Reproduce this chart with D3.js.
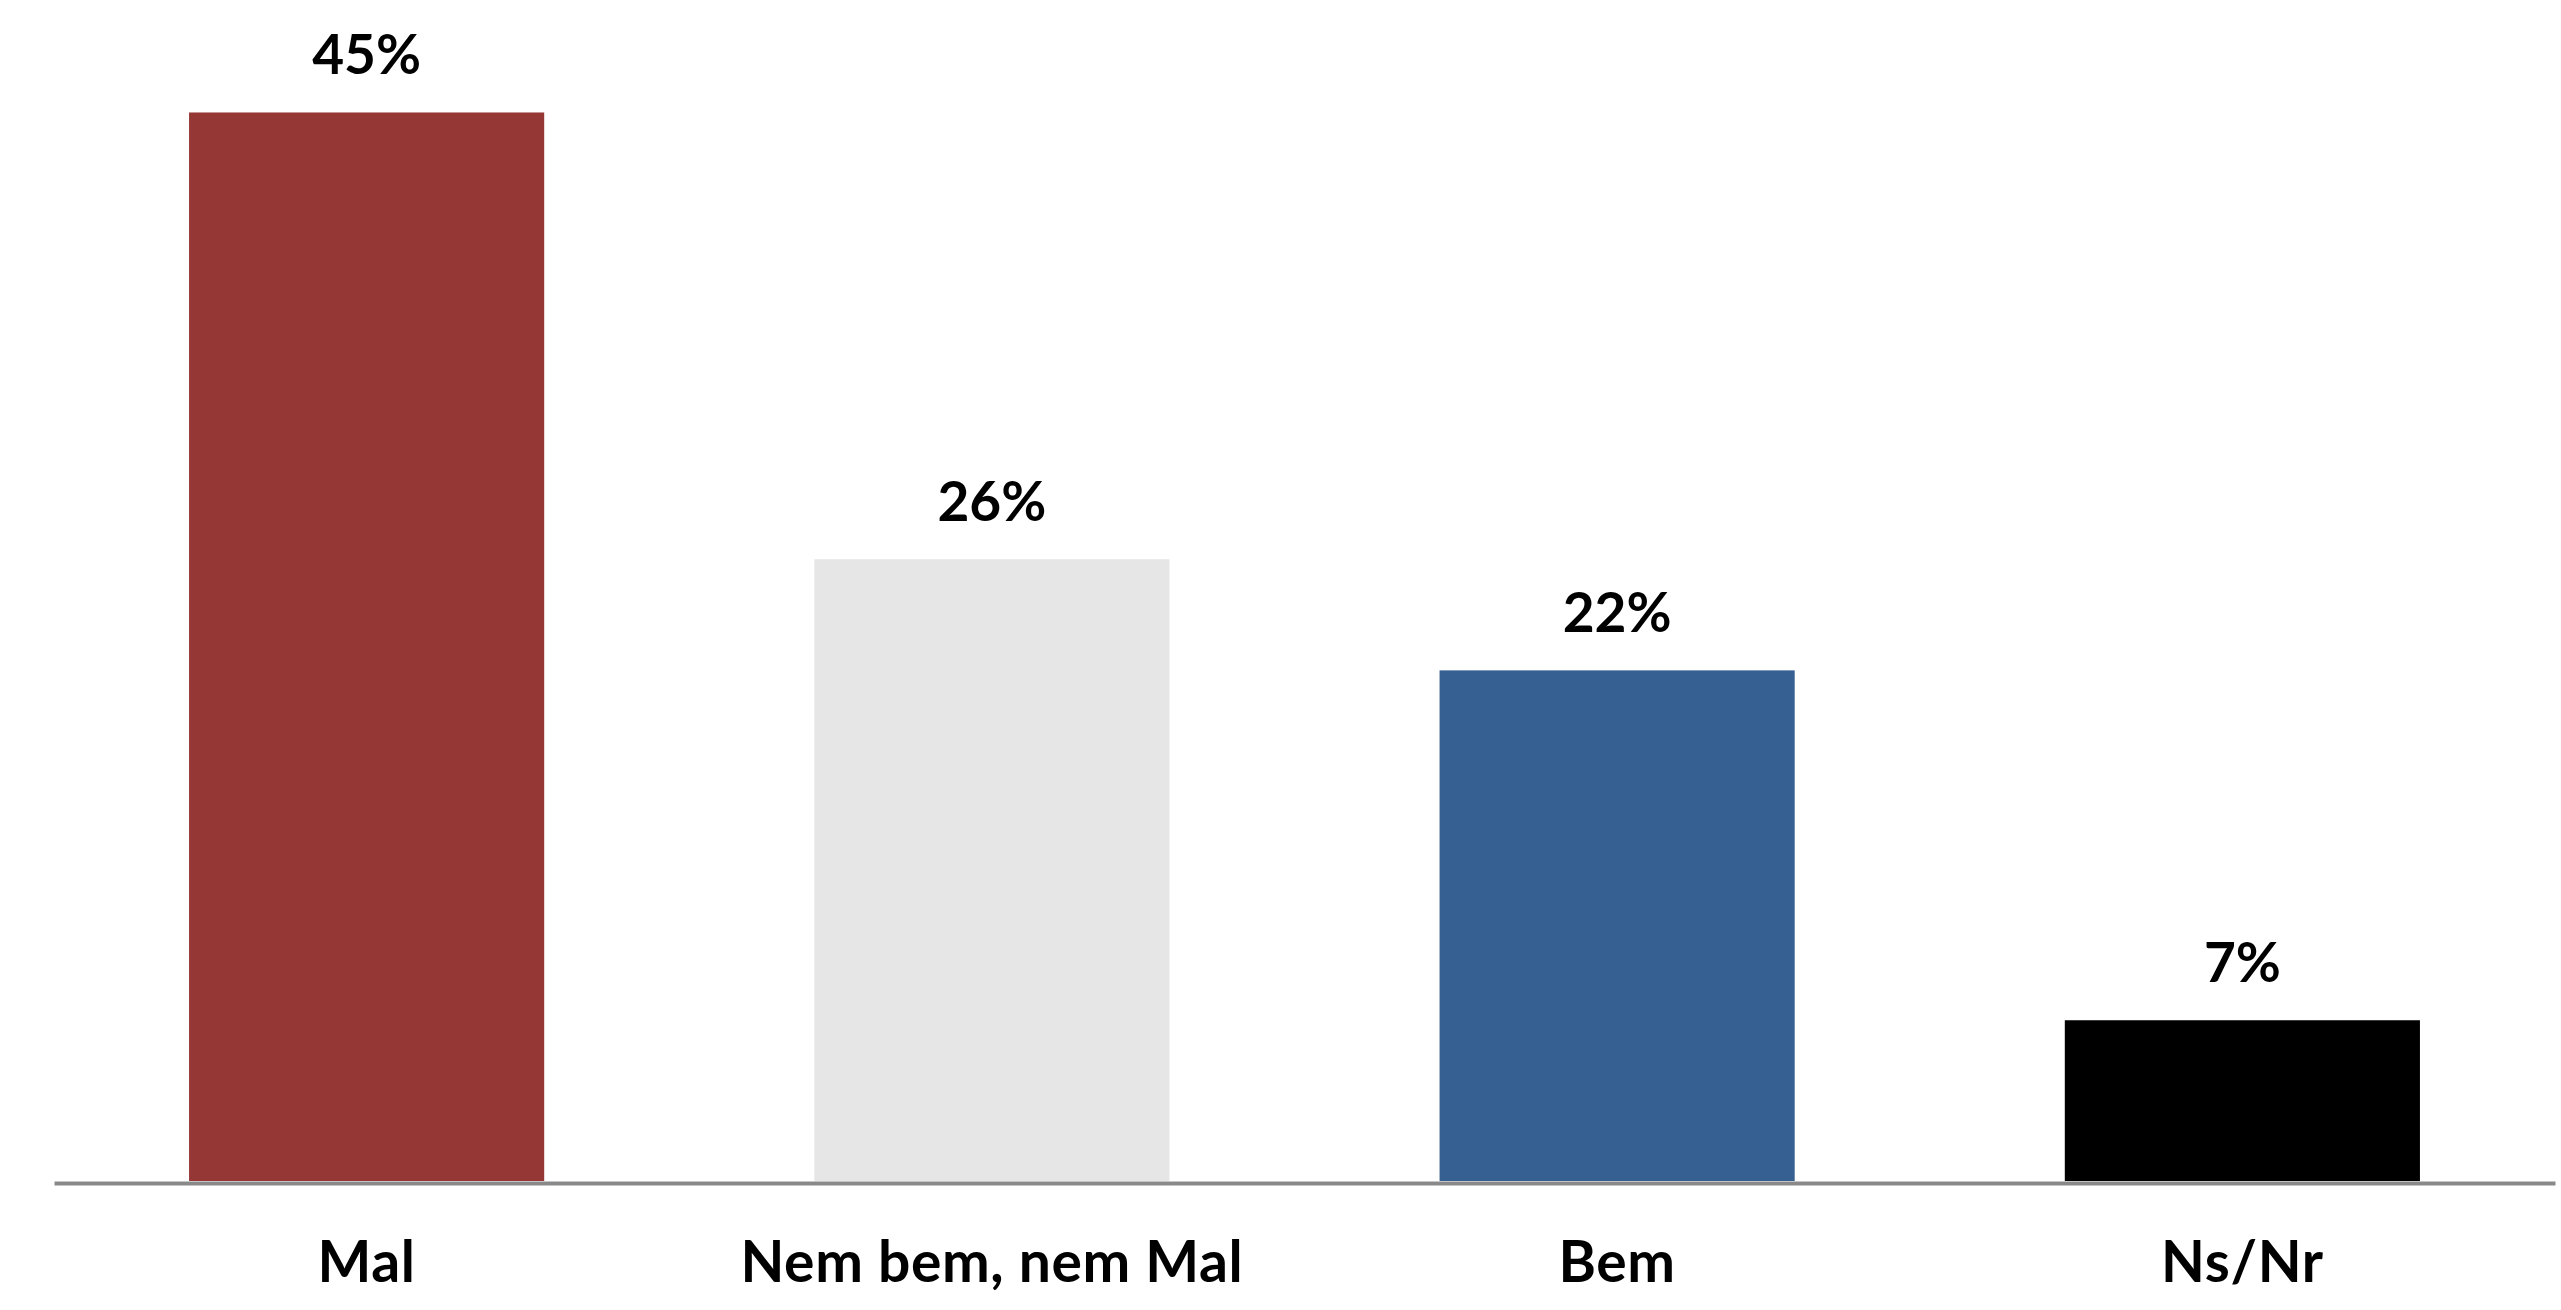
<!DOCTYPE html>
<html>
<head>
<meta charset="utf-8">
<script src="https://cdn.jsdelivr.net/npm/d3@7"></script>
<style>
  html, body { margin: 0; padding: 0; background: #ffffff; overflow: hidden; }
  svg { display: block; }
  text { font-family: Lato, "Open Sans", sans-serif; font-weight: 700; fill: #000; }
</style>
</head>
<body>
<div id="chart"></div>
<script>
const categories = ["Mal", "Nem bem, nem Mal", "Bem", "Ns/Nr"];
const values = [45.2, 26.3, 21.6, 6.8];
const labels = ["45%", "26%", "22%", "7%"];
const colors = ["#953735", "#E6E6E6", "#376092", "#000000"];

const W = 2561, H = 1310;
const svg = d3.select("#chart").append("svg").attr("width", W).attr("height", H);

const x = d3.scaleBand()
  .domain(categories)
  .range([54, 2555])
  .paddingInner(0.432)
  .paddingOuter(0.216);

const y = d3.scaleLinear().domain([0, 50]).range([1181, -1]);

svg.append("g").selectAll("rect")
  .data(categories)
  .join("rect")
  .attr("x", d => x(d))
  .attr("width", x.bandwidth())
  .attr("y", (d, i) => y(values[i]))
  .attr("height", (d, i) => y(0) - y(values[i]))
  .attr("fill", (d, i) => colors[i]);

// axis
const axis = svg.append("g").attr("transform", "translate(0,1183)")
  .call(d3.axisBottom(x).tickSize(0).tickPadding(0).tickFormat(""));
axis.select(".domain").attr("stroke", "#898989").attr("stroke-width", 4);

// category labels
svg.append("g").selectAll("text")
  .data(categories)
  .join("text")
  .attr("x", d => x(d) + x.bandwidth() / 2)
  .attr("y", 1282)
  .attr("text-anchor", "middle")
  .attr("font-size", 57)
  .attr("letter-spacing", 0.6)
  .text(d => d);

// value labels
svg.append("g").selectAll("text")
  .data(categories)
  .join("text")
  .attr("x", d => x(d) + x.bandwidth() / 2)
  .attr("y", (d, i) => y(values[i]) - 38)
  .attr("text-anchor", "middle")
  .attr("font-size", 55)
  .text((d, i) => labels[i]);
</script>
</body>
</html>
